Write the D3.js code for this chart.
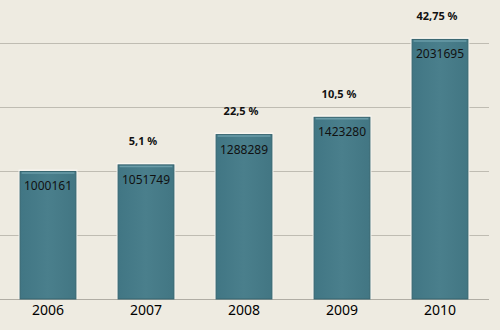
<!DOCTYPE html>
<html><head><meta charset="utf-8">
<script src="https://cdn.jsdelivr.net/npm/d3@7"></script>
<style>html,body{margin:0;padding:0;background:#EEEBE1;}svg{display:block;}</style>
</head><body>
<svg id="c" width="500" height="330"></svg>
<script>
const years = ["2006","2007","2008","2009","2010"];
const values = [1000161, 1051749, 1288289, 1423280, 2031695];
const growth = ["", "5,1 %", "22,5 %", "10,5 %", "42,75 %"];
const yTicks = [0, 500000, 1000000, 1500000, 2000000];

const svg = d3.select("#c");
const W = 500, H = 330;
svg.append("rect").attr("width", W).attr("height", H).attr("fill", "#EEEBE1");

const x = d3.scaleBand().domain(years).range([-1, 489]).paddingInner(0.42).paddingOuter(0.21);
const y = d3.scaleLinear().domain([0, 2000000]).range([299, 43]);

const defs = svg.append("defs");
const g = defs.append("linearGradient").attr("id","bar").attr("x1","0").attr("x2","1").attr("y1","0").attr("y2","0");
g.append("stop").attr("offset","0").attr("stop-color","#417684");
g.append("stop").attr("offset","0.5").attr("stop-color","#4A7F8C");
g.append("stop").attr("offset","1").attr("stop-color","#427683");

// gridlines
svg.append("g").selectAll("line").data(yTicks).join("line")
  .attr("x1", 0).attr("x2", 489)
  .attr("y1", d => Math.round(y(d)) + 0.5).attr("y2", d => Math.round(y(d)) + 0.5)
  .attr("stroke", d => d === 0 ? "#B0ADA4" : "#BFBCB2").attr("stroke-width", 1);

// bars
const bars = svg.append("g");
bars.selectAll("rect.glow").data(values).join("rect")
  .attr("x", (d,i) => x(years[i]) - 1).attr("width", x.bandwidth() + 2)
  .attr("y", d => y(d) - 1.5).attr("height", d => y(0) - y(d) + 1.5)
  .attr("fill", "#F8F6F0");
bars.selectAll("rect.bar").data(values).join("rect")
  .attr("x", (d,i) => x(years[i]) + 0.5).attr("width", x.bandwidth() - 1)
  .attr("y", d => y(d) + 0.5).attr("height", d => y(0) - y(d) - 0.5)
  .attr("fill", "url(#bar)").attr("stroke", "#36646F").attr("stroke-width", 1);
bars.selectAll("line.hl").data(values).join("line")
  .attr("x1", (d,i) => x(years[i]) + 2).attr("x2", (d,i) => x(years[i]) + x.bandwidth() - 2)
  .attr("y1", d => y(d) + 2).attr("y2", d => y(d) + 2)
  .attr("stroke", "#6A9CA8").attr("stroke-width", 1.5);

// value labels
svg.append("g").selectAll("text").data(values).join("text")
  .attr("x", (d,i) => x(years[i]) + x.bandwidth()/2)
  .attr("y", d => y(d) + 19.5)
  .attr("text-anchor", "middle")
  .attr("font-family", "'Noto Sans', sans-serif").attr("font-size", 12)
  .attr("fill", "#111").text(d => d);

// growth labels
svg.append("g").selectAll("text").data(growth).join("text")
  .attr("x", (d,i) => x(years[i]) + x.bandwidth()/2 - 3)
  .attr("y", (d,i) => y(values[i]) - 19)
  .attr("text-anchor", "middle")
  .attr("font-family", "'Noto Sans', sans-serif").attr("font-size", 11).attr("font-weight", "bold")
  .attr("fill", "#111").text(d => d);

// x axis labels
svg.append("g").selectAll("text").data(years).join("text")
  .attr("x", d => x(d) + x.bandwidth()/2)
  .attr("y", 315)
  .attr("text-anchor", "middle")
  .attr("font-family", "'Noto Sans', sans-serif").attr("font-size", 14)
  .attr("fill", "#000").text(d => d);
</script>
</body></html>
